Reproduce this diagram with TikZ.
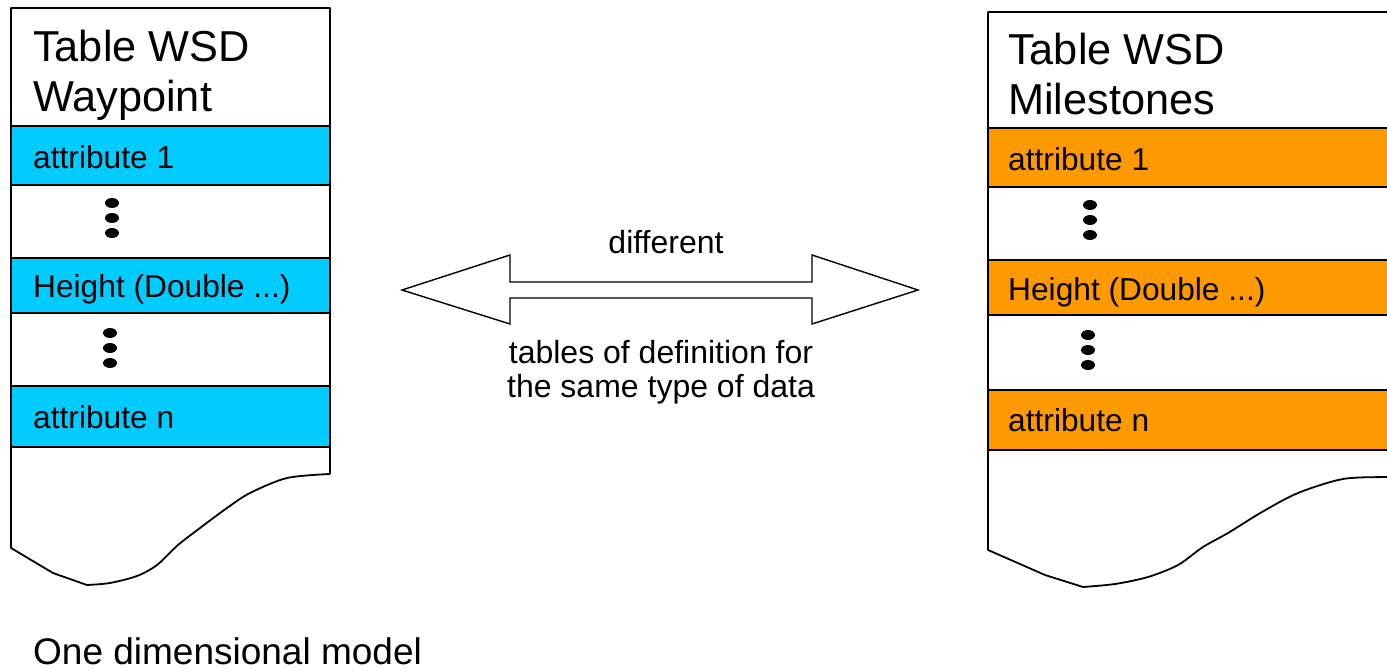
\documentclass[tikz,border=0pt]{standalone}
\usepackage{fontspec}
\setmainfont{Liberation Sans}
\usetikzlibrary{shapes.geometric}
\definecolor{rowcyan}{HTML}{00CCFF}
\definecolor{roworange}{HTML}{FF9900}
\begin{document}
\begin{tikzpicture}[x=1pt,y=-1pt,
  outline/.style={draw=black,line width=1.8pt,fill=white,line join=round},
  rowbox/.style={draw=black,line width=1.8pt,inner sep=0pt,outer sep=0pt},
  rowtext/.style={anchor=base west,inner sep=0pt,font=\fontsize{31.7}{36}\selectfont},
  titletext/.style={anchor=base west,inner sep=0pt,font=\fontsize{43.3}{50}\selectfont},
  midtext/.style={anchor=base,inner sep=0pt,font=\fontsize{32}{36}\selectfont},
  dotmark/.style={ellipse,fill=black,minimum width=14pt,minimum height=10pt,inner sep=0pt},
  bigarrow/.style={draw=black,line width=1.4pt,fill=white,line join=miter}]
\useasboundingbox (0,0) rectangle (1387,671);
\begin{scope}
\clip (0,0) rectangle (1387,671);
% ---------- left table ----------
\draw[outline] (11,8) -- (330,8) -- (330,474)
  -- plot[smooth,tension=0.5] coordinates {(330,474) (287,478) (250,493) (227,508) (200,528) (178,545) (157,565) (137,576) (110,583) (87,585)}
  -- (53,573) -- (11,548) -- cycle;
\draw[line width=2.4pt] (11,126) -- (330,126);
\node[rowbox,fill=rowcyan,minimum width=319pt,minimum height=59pt,anchor=north west] (la1) at (11,126) {};
\node[rowbox,fill=rowcyan,minimum width=319pt,minimum height=55pt,anchor=north west] (lah) at (11,258) {};
\node[rowbox,fill=rowcyan,minimum width=319pt,minimum height=61pt,anchor=north west] (lan) at (11,386) {};
\node[titletext] (lt1) at (33,62) {Table WSD};
\node[titletext] (lt2) at (33,112) {Waypoint};
\node[rowtext] (la1t) at (33,169) {attribute 1};
\node[rowtext] (laht) at (33,298) {Height (Double ...)};
\node[rowtext] (lant) at (33,428) {attribute n};
\node[dotmark] (ld1) at (112,203) {};
\node[dotmark] (ld2) at (112,218) {};
\node[dotmark] (ld3) at (112,233) {};
\node[dotmark] (ld4) at (110,333) {};
\node[dotmark] (ld5) at (110,348) {};
\node[dotmark] (ld6) at (110,363) {};
% ---------- right table ----------
\draw[outline] (988,12) -- (1400,12) -- (1400,477)
  -- plot[smooth,tension=0.5] coordinates {(1400,477) (1387,477) (1343,479) (1298,493) (1262,512) (1228,533) (1203,547) (1178,565) (1148,577) (1115,584) (1083,587)}
  -- (1045,575) -- (988,550) -- cycle;
\draw[line width=2.4pt] (988,128) -- (1400,128);
\node[rowbox,fill=roworange,minimum width=412pt,minimum height=59pt,anchor=north west] (ra1) at (988,128) {};
\node[rowbox,fill=roworange,minimum width=412pt,minimum height=55pt,anchor=north west] (rah) at (988,260) {};
\node[rowbox,fill=roworange,minimum width=412pt,minimum height=60pt,anchor=north west] (ran) at (988,390) {};
\node[titletext] (rt1) at (1008,65) {Table WSD};
\node[titletext] (rt2) at (1008,115) {Milestones};
\node[rowtext] (ra1t) at (1008,171) {attribute 1};
\node[rowtext] (raht) at (1008,300) {Height (Double ...)};
\node[rowtext] (rant) at (1008,431) {attribute n};
\node[dotmark] (rd1) at (1090,205) {};
\node[dotmark] (rd2) at (1090,220) {};
\node[dotmark] (rd3) at (1090,235) {};
\node[dotmark] (rd4) at (1088,335) {};
\node[dotmark] (rd5) at (1088,350) {};
\node[dotmark] (rd6) at (1088,365) {};
\end{scope}
% ---------- double arrow ----------
\draw[bigarrow] (402,290) -- (510,255) -- (510,282) -- (812,282) -- (812,255) -- (918,290)
  -- (812,324) -- (812,298) -- (510,298) -- (510,324) -- cycle;
\node[midtext] (diff) at (666,254) {different};
\node[midtext] (tab1) at (661,363) {tables of definition for};
\node[midtext] (tab2) at (661,397) {the same type of data};
% ---------- caption ----------
\node[anchor=base west,inner sep=0pt,font=\fontsize{37}{44}\selectfont] (cap) at (33,664) {One dimensional model};
\end{tikzpicture}
\end{document}
